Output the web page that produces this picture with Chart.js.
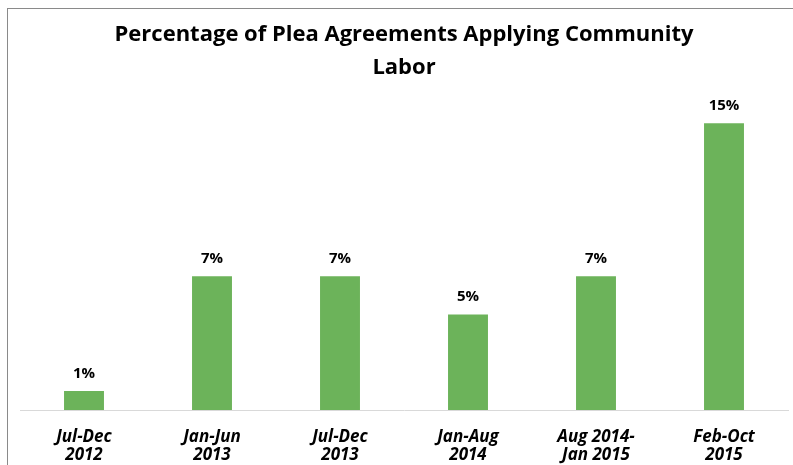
<!DOCTYPE html>
<html>
<head>
<meta charset="utf-8">
<script src="https://cdn.jsdelivr.net/npm/chart.js@4.4.0/dist/chart.umd.min.js"></script>
<style>
  body { margin: 0; background: #fff; }
  #wrap { position: relative; width: 793px; height: 465px; }
  #frame { position: absolute; left: 7px; top: 8px; right: 0; bottom: 0; border-top: 1px solid #8a8a8a; border-left: 1px solid #8a8a8a; }
</style>
</head>
<body>
<div id="wrap">
  <div id="frame"></div>
  <canvas id="planChart" width="793" height="465"></canvas>
</div>
<script>
// periods and percentages
var periods = [['Jul-Dec', '2012'], ['Jan-Jun', '2013'], ['Jul-Dec', '2013'], ['Jan-Aug', '2014'], ['Aug 2014-', 'Jan 2015'], ['Feb-Oct', '2015']];
var percents = [1, 7, 7, 5, 7, 15];
var titleLines = ['Percentage of Plea Agreements Applying Community', 'Labor'];

var barGreen = '#6cb35a';

// draw the "n%" labels above each bar
var valueLabels = {
    id: 'valueLabels',
    afterDatasetsDraw: function(chart) {
        var ctx = chart.ctx;
        var meta = chart.getDatasetMeta(0);
        ctx.save();
        ctx.font = 'bold 15px "Open Sans", sans-serif';
        ctx.fillStyle = '#000';
        ctx.textAlign = 'center';
        ctx.textBaseline = 'bottom';
        meta.data.forEach(function(bar, i) {
            ctx.fillText(percents[i] + '%', bar.x, bar.y - 10);
        });
        ctx.restore();
    }
};

var ctx = document.getElementById('planChart').getContext('2d');
var myChart = new Chart(ctx, {
    type: 'bar',
    data: {
        labels: periods,
        datasets: [{
            data: percents,
            backgroundColor: barGreen,
            borderWidth: 0,
            barPercentage: 0.52,
            categoryPercentage: 0.6
        }]
    },
    options: {
        responsive: false,
        animation: false,
        layout: { padding: { left: 20, right: 5, top: 0, bottom: 0 } },
        plugins: {
            legend: { display: false },
            tooltip: { enabled: false },
            title: {
                display: true,
                text: titleLines,
                color: '#000',
                font: { family: '"Open Sans", sans-serif', size: 22, weight: 'bold', lineHeight: 1.5 },
                padding: { top: 18.5, bottom: 19.5 }
            }
        },
        scales: {
            x: {
                grid: { display: false, drawTicks: false },
                border: { display: true, color: '#d9d9d9', width: 1 },
                afterFit: function(scale) { scale.height = 55; },
                ticks: {
                    color: '#000',
                    padding: 17.5,
                    maxRotation: 0,
                    font: { family: '"Open Sans", sans-serif', size: 17, weight: 'bold', style: 'italic', lineHeight: 1.1 }
                }
            },
            y: {
                display: false,
                min: 0,
                max: 16
            }
        }
    },
    plugins: [valueLabels]
});
</script>
</body>
</html>
